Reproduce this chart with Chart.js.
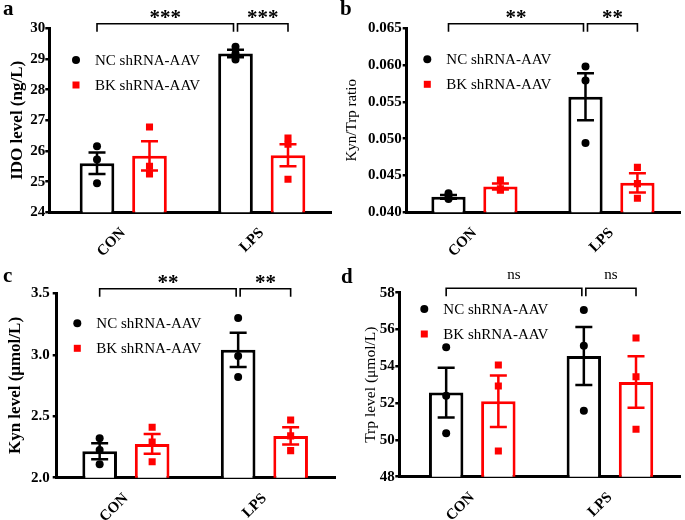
<!DOCTYPE html>
<html><head><meta charset="utf-8">
<script src="https://cdn.jsdelivr.net/npm/chart.js@4/dist/chart.umd.min.js"></script>
<style>
html,body{margin:0;padding:0;background:#fff;}
body{width:685px;height:520px;position:relative;overflow:hidden;font-family:"Liberation Serif","Times New Roman",serif;}
canvas{position:absolute;}
.letter{position:absolute;font-weight:bold;font-size:21px;line-height:20px;font-family:"Liberation Serif","Times New Roman",serif;color:#000;}
</style></head><body>
<canvas id="pa"></canvas>
<canvas id="pb"></canvas>
<canvas id="pc"></canvas>
<canvas id="pd"></canvas>
<div class="letter" style="left:3px;top:-2px">a</div>
<div class="letter" style="left:340px;top:-2px">b</div>
<div class="letter" style="left:3px;top:265px">c</div>
<div class="letter" style="left:341px;top:266px">d</div>
<script>
// ---------- DATA ----------
const categories = ['CON', 'LPS'];
const seriesNames = ['NC shRNA-AAV', 'BK shRNA-AAV'];

// Panel a: IDO level (ng/L)
const idoTitle = 'IDO level (ng/L)';
const idoTicks = [24, 25, 26, 27, 28, 29, 30];
const idoTickLabels = ['24', '25', '26', '27', '28', '29', '30'];
const idoNcMean = [25.6, 29.18];
const idoNcSem = [0.35, 0.12];
const idoNcPoints = [[26.15, 25.72, 24.95], [29.4, 29.18, 28.98]];
const idoBkMean = [25.84, 25.86];
const idoBkSem = [0.48, 0.36];
const idoBkPoints = [[26.78, 25.5, 25.25], [26.42, 26.22, 25.08]];
const idoSig = ['***', '***'];

// Panel b: Kyn/Trp ratio
const ratioTitle = 'Kyn/Trp ratio';
const ratioTicks = [0.040, 0.045, 0.050, 0.055, 0.060, 0.065];
const ratioTickLabels = ['0.040', '0.045', '0.050', '0.055', '0.060', '0.065'];
const ratioNcMean = [0.0421, 0.0557];
const ratioNcSem = [0.00025, 0.0032];
const ratioNcPoints = [[0.0418, 0.0426, 0.0421], [0.0598, 0.0579, 0.0494]];
const ratioBkMean = [0.0435, 0.0440];
const ratioBkSem = [0.0004, 0.0013];
const ratioBkPoints = [[0.0444, 0.0432, 0.0430], [0.0461, 0.0439, 0.0419]];
const ratioSig = ['**', '**'];

// Panel c: Kyn level (μmol/L)
const kynTitle = 'Kyn level (\u03bcmol/L)';
const kynTicks = [2.0, 2.5, 3.0, 3.5];
const kynTickLabels = ['2.0', '2.5', '3.0', '3.5'];
const kynNcMean = [2.215, 3.04];
const kynNcSem = [0.065, 0.14];
const kynNcPoints = [[2.32, 2.225, 2.11], [3.30, 2.99, 2.82]];
const kynBkMean = [2.275, 2.34];
const kynBkSem = [0.08, 0.07];
const kynBkPoints = [[2.41, 2.29, 2.13], [2.47, 2.34, 2.22]];
const kynSig = ['**', '**'];

// Panel d: Trp level (μmol/L)
const trpTitle = 'Trp level (\u03bcmol/L)';
const trpTicks = [48, 50, 52, 54, 56, 58];
const trpTickLabels = ['48', '50', '52', '54', '56', '58'];
const trpNcMean = [52.57, 54.56];
const trpNcSem = [1.35, 1.57];
const trpNcPoints = [[55.03, 52.4, 50.36], [57.06, 55.12, 51.59]];
const trpBkMean = [52.1, 53.15];
const trpBkSem = [1.4, 1.4];
const trpBkPoints = [[54.07, 52.93, 49.4], [55.54, 53.43, 50.58]];
const trpSig = ['ns', 'ns'];

// ---------- STYLE / LAYOUT ----------
const FONT = '"Liberation Serif", "Times New Roman", serif';
const RED = '#ff0000';
const BLACK = '#000000';
const CAT_PCT = 0.758;
const BAR_PCT = 0.66;
const CAT_W = 138.5;

const annotate = {
  id: 'annotate',
  afterDatasetsDraw(chart, args, o) {
    const ctx = chart.ctx;
    const y = chart.scales.y;
    const area = chart.chartArea;
    ctx.save();
    // error bars
    o.groups.forEach((g, k) => {
      const meta = chart.getDatasetMeta(k);
      g.mean.forEach((m, i) => {
        const cx = meta.data[i].x;
        const yt = y.getPixelForValue(m + g.sem[i]);
        const yb = y.getPixelForValue(m - g.sem[i]);
        ctx.strokeStyle = g.color;
        ctx.lineWidth = 2.5;
        ctx.lineCap = 'butt';
        ctx.beginPath();
        ctx.moveTo(cx, yt); ctx.lineTo(cx, yb);
        ctx.moveTo(cx - 8.5, yt); ctx.lineTo(cx + 8.5, yt);
        ctx.moveTo(cx - 8.5, yb); ctx.lineTo(cx + 8.5, yb);
        ctx.stroke();
      });
    });
    // significance brackets
    const nc = chart.getDatasetMeta(0).data;
    const bk = chart.getDatasetMeta(1).data;
    const yl = area.top - 4.5, yd = area.top + 3.5;
    const spans = [[nc[0].x, nc[1].x - 2], [nc[1].x + 2, bk[1].x]];
    ctx.strokeStyle = BLACK;
    ctx.lineWidth = 1.6;
    ctx.fillStyle = BLACK;
    ctx.textAlign = 'center';
    ctx.textBaseline = 'alphabetic';
    spans.forEach((s, j) => {
      ctx.beginPath();
      ctx.moveTo(s[0], yd); ctx.lineTo(s[0], yl); ctx.lineTo(s[1], yl); ctx.lineTo(s[1], yd);
      ctx.stroke();
      const t = o.sig[j];
      if (t === 'ns') {
        ctx.font = '15px ' + FONT;
        ctx.fillText(t, (s[0] + s[1]) / 2, yl - 9);
      } else {
        ctx.font = 'bold 21px ' + FONT;
        ctx.fillText(t, (s[0] + s[1]) / 2, yl + 0.5);
      }
    });
    // legend
    const lx = area.left + o.legendDx;
    let ly = area.top + o.legendDy;
    ctx.font = '15px ' + FONT;
    ctx.textAlign = 'left';
    ctx.textBaseline = 'middle';
    chart.data.datasets.slice(0, 2).forEach((ds, k) => {
      const col = o.groups[k].color;
      ctx.fillStyle = col;
      if (k === 0) {
        ctx.beginPath(); ctx.arc(lx, ly, 4, 0, Math.PI * 2); ctx.fill();
      } else {
        ctx.fillRect(lx - 3.5, ly - 3.5, 7, 7);
      }
      ctx.fillStyle = BLACK;
      ctx.fillText(ds.label, lx + 19, ly + 1);
      ly += 25;
    });
    ctx.restore();
  }
};

function makePanel(id, L, d) {
  const cv = document.getElementById(id);
  cv.width = L.w; cv.height = L.h;
  cv.style.left = L.x + 'px'; cv.style.top = L.y + 'px';
  cv.style.width = L.w + 'px'; cv.style.height = L.h + 'px';
  const xmin = -(L.c0 - L.left) / CAT_W;
  const xmax = 1 + (L.right - (L.c0 + CAT_W)) / CAT_W;
  const off = CAT_PCT / 4;
  const pts = (arr, sign) => {
    const out = [];
    arr.forEach((vals, i) => vals.forEach(v => out.push({ x: i + sign * off, y: v })));
    return out;
  };
  new Chart(cv, {
    type: 'bar',
    data: {
      datasets: [
        { type: 'bar', label: seriesNames[0], data: d.ncMean.map((v, i) => ({ x: i, y: v })),
          backgroundColor: '#ffffff', borderColor: BLACK, borderWidth: 3, borderSkipped: false, order: 3 },
        { type: 'bar', label: seriesNames[1], data: d.bkMean.map((v, i) => ({ x: i, y: v })),
          backgroundColor: '#ffffff', borderColor: RED, borderWidth: 3, borderSkipped: false, order: 3 },
        { type: 'scatter', label: seriesNames[0], data: pts(d.ncPts, -1), pointStyle: 'circle',
          pointRadius: 4, backgroundColor: BLACK, borderWidth: 0, order: 1 },
        { type: 'scatter', label: seriesNames[1], data: pts(d.bkPts, 1), pointStyle: 'rect',
          pointRadius: 5, backgroundColor: RED, borderWidth: 0, order: 1 }
      ]
    },
    options: {
      responsive: false, animation: false, devicePixelRatio: 1,
      categoryPercentage: CAT_PCT, barPercentage: BAR_PCT,
      layout: { padding: { left: 0, top: L.top, right: L.w - L.right, bottom: 0 } },
      plugins: {
        legend: { display: false }, tooltip: { enabled: false },
        annotate: { groups: [
          { mean: d.ncMean, sem: d.ncSem, color: BLACK },
          { mean: d.bkMean, sem: d.bkSem, color: RED }
        ], sig: d.sig, legendDx: L.legendDx, legendDy: L.legendDy }
      },
      scales: {
        x: {
          type: 'linear', min: xmin, max: xmax, offset: false,
          grid: { display: false },
          border: { display: true, color: BLACK, width: 3 },
          afterBuildTicks: s => { s.ticks = categories.map((c, i) => ({ value: i })); },
          afterFit: s => { s.height = L.h - L.bottom; },
          ticks: {
            callback: v => categories[v], color: BLACK, autoSkip: false,
            font: { family: FONT, size: 15, weight: 'bold' },
            minRotation: 45, maxRotation: 45, padding: 4
          }
        },
        y: {
          min: d.ticks[0], max: d.ticks[d.ticks.length - 1],
          afterBuildTicks: s => { s.ticks = d.ticks.map(v => ({ value: v })); },
          afterFit: s => { s.width = L.left; },
          grid: { display: true, drawOnChartArea: false, drawTicks: true, tickLength: 4, color: BLACK, lineWidth: 2.5 },
          border: { display: true, color: BLACK, width: 3 },
          ticks: {
            callback: v => d.tickLabels[d.ticks.indexOf(v)], color: BLACK, autoSkip: false,
            font: { family: FONT, size: 15, weight: 'bold' }, padding: L.tickPad
          },
          title: { display: true, text: d.title, color: BLACK,
            font: { family: FONT, size: L.titleSize, weight: L.titleBold ? 'bold' : 'normal' },
            padding: { top: L.titlePad, bottom: 0 } }
        }
      }
    },
    plugins: [annotate]
  });
}

makePanel('pa',
  { x: 0, y: 0, w: 342, h: 260, left: 49.3, right: 331.7, top: 28.3, bottom: 212.3, c0: 123.25, tickPad: 0, titlePad: 7, titleBold: true, titleSize: 17, legendDx: 26.7, legendDy: 31.7 },
  { title: idoTitle, ticks: idoTicks, tickLabels: idoTickLabels, ncMean: idoNcMean, ncSem: idoNcSem, ncPts: idoNcPoints,
    bkMean: idoBkMean, bkSem: idoBkSem, bkPts: idoBkPoints, sig: idoSig });
makePanel('pb',
  { x: 342, y: 0, w: 343, h: 260, left: 64.7, right: 341, top: 28.3, bottom: 212.3, c0: 133.2, tickPad: 1, titlePad: 1, titleBold: false, titleSize: 15, legendDx: 20.6, legendDy: 31 },
  { title: ratioTitle, ticks: ratioTicks, tickLabels: ratioTickLabels, ncMean: ratioNcMean, ncSem: ratioNcSem, ncPts: ratioNcPoints,
    bkMean: ratioBkMean, bkSem: ratioBkSem, bkPts: ratioBkPoints, sig: ratioSig });
makePanel('pc',
  { x: 0, y: 260, w: 342, h: 260, left: 56.7, right: 335, top: 33.3, bottom: 217.7, c0: 125.9, tickPad: 3, titlePad: 5, titleBold: true, titleSize: 17, legendDx: 20.6, legendDy: 30 },
  { title: kynTitle, ticks: kynTicks, tickLabels: kynTickLabels, ncMean: kynNcMean, ncSem: kynNcSem, ncPts: kynNcPoints,
    bkMean: kynBkMean, bkSem: kynBkSem, bkPts: kynBkPoints, sig: kynSig });
makePanel('pd',
  { x: 342, y: 260, w: 343, h: 260, left: 57.3, right: 339.7, top: 32.7, bottom: 216.7, c0: 130.7, tickPad: 0.5, titlePad: 20, titleBold: false, titleSize: 15.5, legendDx: 25, legendDy: 16.3 },
  { title: trpTitle, ticks: trpTicks, tickLabels: trpTickLabels, ncMean: trpNcMean, ncSem: trpNcSem, ncPts: trpNcPoints,
    bkMean: trpBkMean, bkSem: trpBkSem, bkPts: trpBkPoints, sig: trpSig });
</script>
</body></html>
